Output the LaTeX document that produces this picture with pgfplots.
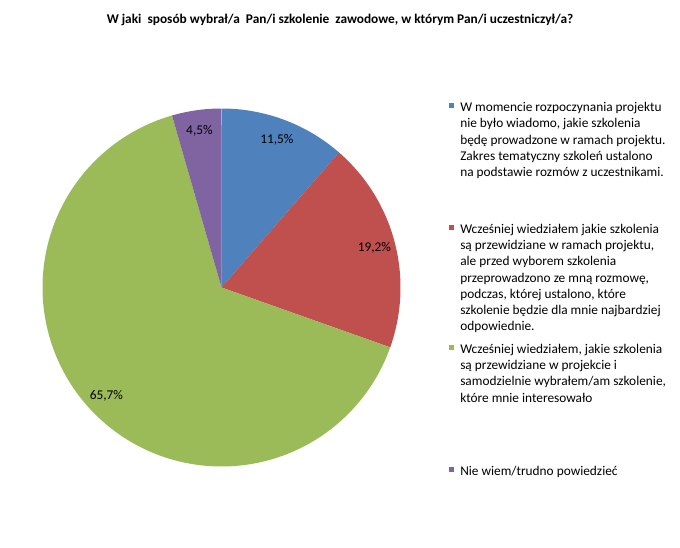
\documentclass[border=0pt]{standalone}
\usepackage{pgfplots}
\pgfplotsset{compat=1.18}
\usepackage{pgfplotstable}
\usepackage{fontspec}
\setmainfont{Carlito}

\definecolor{cblue}{HTML}{4F81BD}
\definecolor{cred}{HTML}{C0504D}
\definecolor{cgreen}{HTML}{9BBB59}
\definecolor{cpurple}{HTML}{8064A2}

\pgfplotstableread{
id pct
A 11.5
B 19.2
C 65.7
D 4.5
}\piedata
\pgfplotstablegetelem{0}{pct}\of\piedata \let\pA\pgfplotsretval
\pgfplotstablegetelem{1}{pct}\of\piedata \let\pB\pgfplotsretval
\pgfplotstablegetelem{2}{pct}\of\piedata \let\pC\pgfplotsretval
\pgfplotstablegetelem{3}{pct}\of\piedata \let\pD\pgfplotsretval
\pgfmathsetmacro\tot{\pA+\pB+\pC+\pD}
\pgfmathsetmacro\aA{90-3.6*(\pA/\tot)*100}
\pgfmathsetmacro\aB{\aA-3.6*(\pB/\tot)*100}
\pgfmathsetmacro\aC{\aB-3.6*(\pC/\tot)*100}
\pgfmathsetmacro\aD{\aC-3.6*(\pD/\tot)*100}
\pgfmathsetmacro\mA{(90+\aA)/2}
\pgfmathsetmacro\mB{(\aA+\aB)/2}
\pgfmathsetmacro\mC{(\aB+\aC)/2}
\pgfmathsetmacro\mD{(\aC+\aD)/2}

\def\cx{221.5}
\def\cy{259.5}
\def\R{179}
\def\RL{158}

\newcommand\legtext[1]{\parbox[t]{215pt}{\raggedright\fontsize{10}{12.2}\selectfont #1}}

\begin{document}
\begin{tikzpicture}
\useasboundingbox (0,0) rectangle (510pt,410.25pt);
\begin{axis}[
  at={(0,0)}, anchor=south west,
  scale only axis, width=510pt, height=410.25pt,
  xmin=0, xmax=680, ymin=0, ymax=547,
  axis lines=none, clip=false,
]
\addplot[draw=none, fill=cblue, domain=\aA:90, samples=80, variable=\t]
  ({\cx+\R*cos(\t)}, {\cy+\R*sin(\t)}) -- (axis cs:\cx,\cy) -- cycle;
\addplot[draw=none, fill=cred, domain=\aB:\aA, samples=80, variable=\t]
  ({\cx+\R*cos(\t)}, {\cy+\R*sin(\t)}) -- (axis cs:\cx,\cy) -- cycle;
\addplot[draw=none, fill=cgreen, domain=\aC:\aB, samples=200, variable=\t]
  ({\cx+\R*cos(\t)}, {\cy+\R*sin(\t)}) -- (axis cs:\cx,\cy) -- cycle;
\addplot[draw=none, fill=cpurple, domain=\aD:\aC, samples=40, variable=\t]
  ({\cx+\R*cos(\t)}, {\cy+\R*sin(\t)}) -- (axis cs:\cx,\cy) -- cycle;

\node[font=\fontsize{10}{12}\selectfont] at (axis cs:{\cx+\RL*cos(\mA)},{\cy+\RL*sin(\mA)}) {11,5\%};
\node[font=\fontsize{10}{12}\selectfont] at (axis cs:{\cx+\RL*cos(\mB)},{\cy+\RL*sin(\mB)}) {19,2\%};
\node[font=\fontsize{10}{12}\selectfont] at (axis cs:{\cx+\RL*cos(\mC)},{\cy+\RL*sin(\mC)}) {65,7\%};
\node[font=\fontsize{10}{12}\selectfont] at (axis cs:{\cx+\RL*cos(\mD)},{\cy+\RL*sin(\mD)}) {4,5\%};

% title
\node[anchor=base, font=\bfseries\fontsize{10}{12}\selectfont] at (axis cs:340,523.7)
  {W jaki \ sposób wybrał/a \ Pan/i szkolenie \ zawodowe, w którym Pan/i uczestniczył/a?};

% legend
\fill[cblue] (axis cs:449,438.7) rectangle (axis cs:454,443.7);
\node[anchor=base west, inner sep=0pt] at (axis cs:460,435.3) {\legtext{W momencie rozpoczynania projektu\\ nie było wiadomo, jakie szkolenia\\ będę prowadzone w ramach projektu.\\ Zakres tematyczny szkoleń ustalono\\ na podstawie rozmów z uczestnikami.}};
\fill[cred] (axis cs:449,317.2) rectangle (axis cs:454,322.2);
\node[anchor=base west, inner sep=0pt] at (axis cs:460,313.7) {\legtext{Wcześniej wiedziałem jakie szkolenia\\ są przewidziane w ramach projektu,\\ ale przed wyborem szkolenia\\ przeprowadzono ze mną rozmowę,\\ podczas, której ustalono, które\\ szkolenie będzie dla mnie najbardziej\\ odpowiednie.}};
\fill[cgreen] (axis cs:449,197.2) rectangle (axis cs:454,202.2);
\node[anchor=base west, inner sep=0pt] at (axis cs:460,193.7) {\legtext{Wcześniej wiedziałem, jakie szkolenia\\ są przewidziane w projekcie i\\ samodzielnie wybrałem/am szkolenie,\\ które mnie interesowało}};
\fill[cpurple] (axis cs:449,75.5) rectangle (axis cs:454,80.5);
\node[anchor=base west, inner sep=0pt] at (axis cs:460,72) {\legtext{Nie wiem/trudno powiedzieć}};
\end{axis}
\end{tikzpicture}
\end{document}
